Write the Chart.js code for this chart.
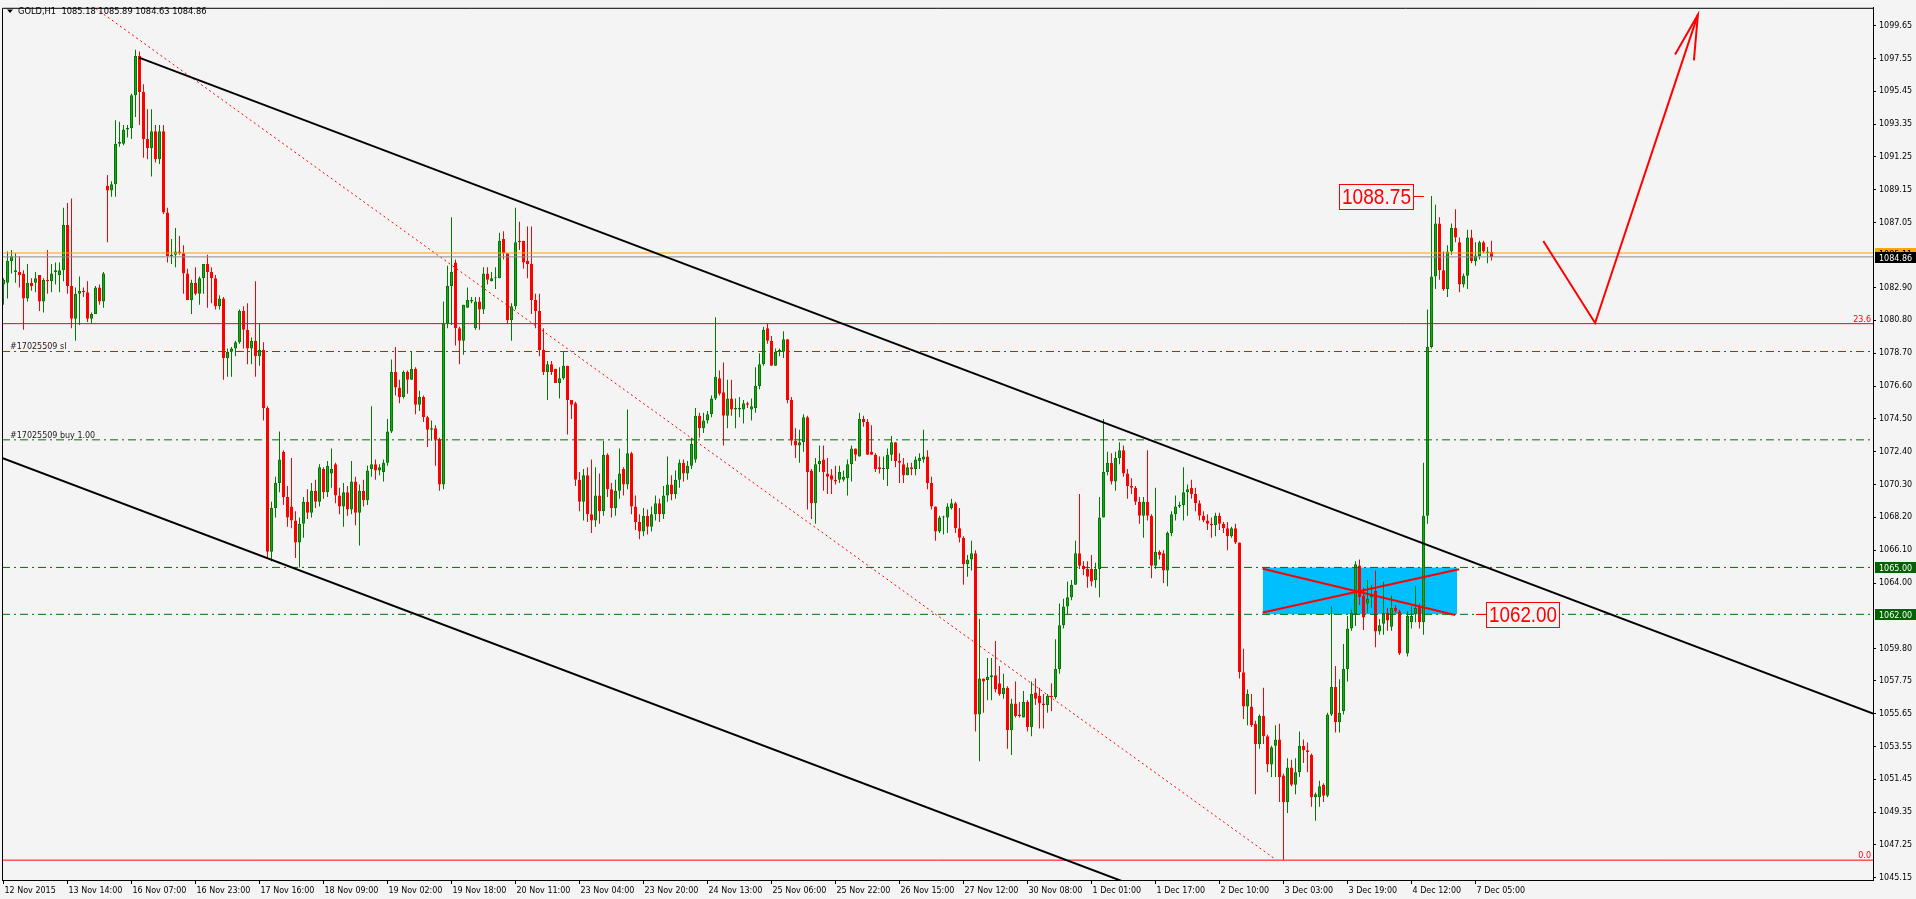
<!DOCTYPE html>
<html><head><meta charset="utf-8">
<script src="https://cdn.jsdelivr.net/npm/chart.js@4.4.1/dist/chart.umd.min.js"></script>
<style>
html,body{margin:0;padding:0;background:#f4f4f4;overflow:hidden;}
canvas{display:block;}
</style></head>
<body>
<canvas id="c" width="1916" height="899"></canvas>
<script>
// ---------- DATA ----------
const titleText = "GOLD,H1  1085.18 1085.89 1084.63 1084.86";
const xTickBars = [0,16,32,48,64,80,96,112,128,144,160,176,192,208,224,240,256,272,288,304,320,336,352,368];
const xTickLabels = ["12 Nov 2015","13 Nov 14:00","16 Nov 07:00","16 Nov 23:00","17 Nov 16:00","18 Nov 09:00","19 Nov 02:00","19 Nov 18:00","20 Nov 11:00","23 Nov 04:00","23 Nov 20:00","24 Nov 13:00","25 Nov 06:00","25 Nov 22:00","26 Nov 15:00","27 Nov 12:00","30 Nov 08:00","1 Dec 01:00","1 Dec 17:00","2 Dec 10:00","3 Dec 03:00","3 Dec 19:00","4 Dec 12:00","7 Dec 05:00"];
const yTickValues = [1099.65,1097.55,1095.45,1093.35,1091.25,1089.15,1087.05,1082.90,1080.80,1078.70,1076.60,1074.50,1072.40,1070.30,1068.20,1066.10,1064.00,1059.80,1057.75,1055.65,1053.55,1051.45,1049.35,1047.25,1045.15];

const opens = [
1083.1,1083.2,1084.6,1083.9,1083.9,1083.8,1082.2,1083.2,1083.2,1083.7,
1082.0,1083.4,1083.3,1083.9,1083.7,1084.0,1086.9,1083.0,1080.9,1082.5,
1082.7,1082.6,1080.9,1081.2,1082.9,1082.0,1089.4,1089.1,1089.5,1092.1,
1092.1,1093.0,1093.1,1095.2,1097.7,1095.4,1092.4,1091.8,1092.9,1091.1,
1092.9,1087.7,1084.9,1085.0,1085.2,1085.1,1083.8,1082.1,1083.2,1082.5,
1083.5,1084.4,1083.9,1083.5,1081.7,1082.2,1078.4,1078.8,1079.0,1079.4,
1081.4,1080.2,1079.0,1079.5,1078.5,1078.9,1075.2,1066.0,1068.8,1070.4,
1072.4,1069.5,1068.9,1068.0,1066.6,1067.8,1069.2,1068.5,1069.9,1069.2,
1071.3,1069.8,1071.0,1071.6,1069.6,1068.9,1069.8,1068.7,1070.5,1068.5,
1069.9,1069.3,1071.3,1071.6,1071.2,1071.1,1071.7,1073.7,1077.5,1076.5,
1075.9,1077.5,1077.0,1077.7,1075.4,1075.9,1074.6,1073.8,1073.9,1073.2,
1070.3,1080.6,1083.0,1084.5,1080.3,1079.5,1081.6,1082.0,1080.3,1082.0,
1081.5,1083.8,1083.3,1083.5,1083.5,1086.0,1085.1,1080.8,1081.7,1085.9,
1085.9,1084.6,1084.4,1082.1,1081.4,1078.9,1077.5,1078.0,1077.7,1076.8,
1077.1,1077.9,1075.7,1075.5,1070.6,1069.2,1070.9,1068.4,1068.0,1069.6,
1068.6,1072.2,1070.0,1068.8,1069.9,1071.3,1070.3,1072.3,1068.9,1067.9,
1067.3,1068.3,1067.6,1068.4,1069.1,1068.4,1069.6,1070.3,1069.7,1070.6,
1071.7,1071.0,1071.5,1071.9,1074.7,1073.9,1074.4,1074.8,1075.8,1077.1,
1076.2,1074.7,1075.8,1075.1,1075.1,1075.1,1075.5,1075.1,1075.2,1076.6,
1078.0,1080.3,1079.5,1077.9,1078.8,1078.8,1079.6,1075.7,1073.1,1072.8,
1073.0,1074.6,1071.2,1069.1,1071.6,1071.9,1071.0,1070.9,1070.6,1070.6,
1070.6,1070.7,1071.6,1072.6,1072.1,1074.5,1074.3,1072.4,1072.2,1071.4,
1071.3,1071.3,1072.2,1073.0,1071.8,1071.6,1070.9,1071.4,1071.3,1071.8,
1071.9,1072.1,1070.4,1068.9,1067.3,1068.2,1068.2,1068.8,1069.1,1067.5,
1066.9,1065.2,1065.5,1065.9,1055.6,1057.9,1057.8,1058.0,1058.1,1057.6,
1056.9,1057.3,1054.6,1056.3,1055.6,1055.4,1056.4,1054.8,1057.0,1056.8,
1056.3,1056.2,1056.8,1056.7,1058.5,1061.3,1062.5,1063.1,1063.9,1065.9,
1065.1,1064.9,1064.9,1064.2,1064.9,1068.2,1071.1,1071.7,1070.5,1072.0,
1072.5,1071.0,1070.2,1070.1,1069.2,1068.3,1069.2,1068.3,1065.1,1066.0,
1065.9,1064.8,1067.2,1068.4,1068.9,1069.0,1069.8,1070.1,1069.7,1069.1,
1068.3,1068.0,1067.8,1067.7,1068.3,1067.8,1067.5,1067.0,1067.5,1066.6,
1058.3,1056.1,1056.1,1055.0,1053.7,1055.5,1054.2,1052.4,1053.6,1054.0,
1051.7,1050.0,1052.2,1051.1,1051.9,1053.6,1053.3,1053.0,1050.3,1050.3,
1051.1,1050.4,1055.6,1057.35,1055.1,1055.8,1058.5,1061.1,1062.0,1065.13,
1063.2,1062.7,1063.1,1063.5,1060.9,1061.4,1062.1,1061.2,1062.4,1062.2,
null,1059.5,1061.5,1062.0,1062.5,1061.5,1068.3,1079.1,1083.6,1087.0,
1084.0,1082.8,1085.2,1086.7,1085.8,1083.1,1083.65,1086.1,1084.6,1084.9,
1085.8,1085.1,1085.18];

const highs = [
1083.5,1085.2,1085.3,1085.1,1084.9,1084.0,1084.4,1083.5,1083.9,1083.7,
1083.5,1085.3,1084.4,1084.5,1084.5,1088.0,1088.3,1088.6,1082.9,1083.6,
1082.9,1083.3,1081.3,1083.0,1083.1,1083.9,1090.1,1089.7,1093.6,1093.5,
1093.3,1093.3,1095.3,1098.1,1098.0,1095.9,1094.3,1094.3,1093.3,1093.3,
1093.3,1088.0,1086.0,1086.7,1086.2,1085.6,1084.1,1083.4,1084.2,1083.6,
1084.4,1085.0,1084.2,1083.7,1082.4,1082.3,1079.0,1079.1,1079.5,1081.5,
1081.7,1081.9,1079.7,1083.3,1080.6,1079.4,1075.3,1069.2,1070.8,1073.7,
1072.5,1070.2,1072.0,1068.6,1068.2,1069.5,1070.0,1070.4,1070.6,1071.6,
1071.4,1071.8,1072.6,1071.7,1070.1,1070.4,1070.2,1071.8,1070.8,1070.3,
1070.6,1071.5,1075.3,1071.9,1071.6,1071.9,1074.5,1078.3,1079.1,1077.0,
1077.6,1077.6,1078.8,1077.8,1076.3,1076.0,1074.7,1074.4,1074.1,1073.3,
1082.0,1084.3,1087.4,1084.7,1080.4,1081.8,1082.9,1082.3,1082.3,1082.3,
1084.2,1084.2,1083.9,1084.2,1086.4,1086.5,1085.1,1081.9,1088.0,1087.1,
1085.9,1086.8,1086.8,1082.5,1082.5,1080.3,1078.2,1078.2,1077.7,1077.8,
1078.8,1077.9,1075.7,1075.6,1071.1,1071.3,1071.4,1071.9,1071.4,1071.0,
1073.1,1072.3,1070.4,1070.6,1072.6,1071.4,1075.1,1072.4,1069.6,1068.4,
1068.8,1068.7,1068.9,1069.6,1069.4,1070.2,1072.1,1070.9,1071.2,1071.9,
1071.9,1071.8,1073.3,1075.2,1074.9,1074.9,1075.0,1076.0,1081.0,1077.6,
1078.1,1077.0,1077.0,1075.8,1075.9,1075.7,1075.6,1075.8,1077.8,1078.7,
1080.4,1080.6,1079.8,1079.0,1079.0,1080.1,1079.6,1075.9,1073.9,1073.8,
1074.8,1074.7,1071.3,1072.0,1072.8,1072.8,1072.0,1071.3,1071.5,1071.5,
1071.2,1071.9,1072.8,1072.6,1074.9,1074.7,1074.5,1074.1,1072.3,1072.1,
1072.1,1072.6,1073.4,1073.0,1072.3,1072.0,1071.7,1071.7,1072.1,1072.3,
1073.8,1072.5,1070.8,1068.9,1068.3,1068.3,1069.1,1069.4,1069.2,1068.8,
1067.0,1065.8,1066.7,1066.1,1061.7,1057.9,1059.2,1059.2,1060.3,1058.7,
1058.2,1057.4,1056.6,1057.7,1056.4,1057.1,1056.5,1057.7,1057.9,1057.3,
1056.9,1056.9,1057.6,1060.4,1062.7,1063.0,1064.1,1064.2,1066.7,1069.7,
1065.4,1065.4,1065.8,1065.3,1069.5,1074.5,1072.4,1072.3,1072.4,1073.0,
1072.8,1071.3,1070.7,1070.2,1069.5,1069.5,1072.5,1068.4,1070.1,1066.1,
1066.1,1067.3,1068.6,1069.6,1069.2,1071.4,1070.3,1070.6,1070.1,1069.3,
1068.6,1068.4,1068.2,1068.5,1068.5,1067.9,1067.9,1067.6,1067.8,1066.6,
1059.8,1057.2,1056.9,1055.2,1055.6,1057.3,1054.3,1053.6,1054.9,1055.0,
1051.8,1052.8,1052.7,1052.8,1054.5,1054.0,1053.8,1053.1,1050.6,1051.35,
1051.2,1055.7,1062.5,1058.7,1057.85,1060.1,1061.9,1062.3,1065.4,1065.5,
1063.7,1064.2,1063.9,1064.8,1061.7,1064.1,1062.4,1063.2,1062.6,1062.3,
null,1062.2,1062.5,1063.8,1062.7,1071.7,1081.5,1088.75,1088.2,1087.4,
1085.2,1085.6,1087.0,1087.9,1086.1,1083.8,1086.6,1086.6,1085.8,1085.9,
1085.9,1085.5,1085.89];

const lows = [
1081.8,1082.2,1083.8,1083.2,1082.9,1080.2,1082.0,1082.7,1082.6,1081.4,
1081.3,1082.5,1082.6,1083.1,1082.6,1083.3,1082.5,1080.3,1079.5,1080.5,
1082.3,1080.7,1080.6,1081.2,1081.8,1081.6,1085.8,1088.7,1088.7,1091.9,
1092.0,1092.5,1092.4,1093.8,1093.3,1091.2,1091.1,1090.0,1090.9,1090.8,
1087.6,1084.5,1084.4,1084.2,1085.0,1082.5,1082.1,1081.2,1082.4,1081.8,
1082.5,1081.6,1081.9,1081.5,1081.5,1077.0,1077.2,1077.2,1078.5,1079.3,
1079.0,1078.0,1078.0,1077.2,1077.9,1074.4,1065.6,1065.4,1068.2,1069.8,
1069.0,1067.6,1067.5,1065.6,1065.0,1066.9,1068.1,1068.2,1068.8,1068.9,
1069.4,1069.5,1070.1,1069.1,1068.4,1067.6,1068.3,1068.4,1067.7,1066.4,
1068.9,1069.0,1070.8,1070.6,1070.9,1070.5,1071.5,1073.6,1076.0,1075.5,
1075.8,1076.1,1077.0,1074.8,1075.0,1074.3,1072.7,1073.1,1071.5,1069.9,
1070.0,1080.3,1080.5,1079.2,1078.0,1078.6,1081.6,1081.9,1080.2,1080.2,
1081.2,1083.1,1083.3,1082.8,1083.5,1084.7,1080.6,1079.5,1081.5,1085.3,
1084.1,1083.5,1081.2,1080.3,1078.5,1077.3,1075.7,1077.3,1076.8,1075.8,
1077.0,1073.5,1074.5,1070.2,1068.6,1068.0,1067.9,1067.2,1067.6,1067.8,
1068.3,1069.5,1068.2,1068.3,1069.4,1069.6,1070.0,1068.4,1067.4,1066.8,
1067.0,1067.1,1067.3,1068.0,1067.9,1068.1,1069.2,1069.3,1069.4,1070.1,
1070.5,1070.6,1071.3,1071.7,1073.3,1073.6,1074.2,1074.6,1075.7,1076.0,
1072.8,1073.9,1074.7,1073.9,1074.6,1074.2,1075.2,1074.4,1074.9,1076.4,
1077.9,1079.3,1077.9,1077.9,1078.5,1078.4,1075.5,1072.8,1072.0,1071.7,
1072.4,1068.7,1068.1,1067.8,1071.1,1069.9,1069.7,1069.7,1070.3,1070.4,
1070.5,1069.6,1070.5,1071.8,1072.1,1074.0,1072.2,1072.2,1071.1,1071.0,
1070.6,1070.2,1071.8,1071.4,1070.4,1070.4,1070.9,1070.9,1070.9,1071.3,
1071.7,1070.0,1068.7,1066.7,1067.2,1067.1,1067.2,1068.7,1067.2,1066.6,
1063.9,1064.4,1064.8,1054.5,1052.6,1055.7,1056.5,1056.5,1057.0,1056.8,
1056.6,1053.4,1053.0,1055.4,1055.4,1055.4,1054.5,1054.2,1056.2,1054.7,
1054.7,1055.7,1055.8,1056.6,1058.2,1061.1,1062.0,1062.9,1063.9,1064.9,
1064.5,1063.7,1063.8,1063.7,1063.1,1068.2,1070.9,1070.3,1069.9,1071.6,
1070.8,1069.4,1069.7,1069.0,1067.8,1066.9,1068.0,1064.3,1064.9,1065.5,
1064.0,1063.8,1067.0,1068.0,1068.8,1068.0,1068.3,1069.4,1068.6,1068.0,
1067.9,1067.4,1066.9,1067.0,1067.4,1067.2,1066.1,1066.9,1066.5,1057.9,
1055.3,1054.9,1054.8,1050.5,1053.4,1053.7,1051.9,1051.6,1051.6,1050.0,
1046.3,1049.3,1051.0,1050.5,1051.6,1052.5,1051.9,1049.7,1048.8,1049.7,
1050.0,1050.3,1055.5,1054.45,1054.45,1055.6,1057.7,1060.95,1061.25,1062.6,
1061.0,1062.1,1062.4,1059.9,1060.7,1060.7,1060.95,1060.95,1062.1,1059.4,
null,1059.3,1061.1,1061.5,1061.1,1060.7,1067.8,1079.0,1082.8,1083.4,
1082.7,1082.3,1085.0,1085.8,1082.6,1082.9,1082.8,1084.45,1084.3,1084.7,
1085.1,1084.45,1084.63];

const closes = [
1083.4,1084.6,1084.9,1084.0,1083.7,1082.2,1083.2,1083.0,1083.5,1082.0,
1083.4,1083.3,1083.8,1084.0,1084.0,1086.9,1083.0,1080.9,1082.5,1082.7,
1082.6,1080.9,1081.2,1082.9,1082.0,1083.8,1089.1,1089.5,1092.1,1092.2,
1093.0,1093.1,1095.2,1097.7,1095.4,1092.4,1091.8,1092.9,1091.1,1092.9,
1087.7,1084.9,1085.0,1085.2,1085.1,1083.8,1082.1,1083.2,1082.5,1083.5,
1084.4,1083.9,1083.5,1081.7,1082.2,1078.4,1078.8,1079.0,1079.4,1081.4,
1080.2,1079.0,1079.5,1078.5,1078.9,1075.2,1066.0,1068.8,1070.4,1071.9,
1069.5,1068.2,1068.0,1066.6,1067.8,1069.2,1068.5,1069.9,1069.2,1071.4,
1069.8,1071.5,1071.3,1069.6,1068.9,1069.8,1068.7,1070.5,1068.5,1069.9,
1069.3,1071.2,1071.6,1071.2,1071.4,1071.7,1073.7,1077.5,1076.5,1075.9,
1077.5,1077.0,1077.7,1075.4,1075.9,1074.6,1073.8,1073.9,1073.2,1070.3,
1080.6,1083.0,1083.9,1080.3,1079.5,1081.8,1082.1,1082.1,1082.0,1081.5,
1083.8,1083.4,1083.5,1083.5,1085.9,1085.1,1080.8,1081.7,1085.8,1085.8,
1084.5,1084.4,1082.1,1081.4,1078.9,1077.5,1078.0,1077.5,1076.8,1077.1,
1077.9,1075.7,1075.4,1070.6,1069.2,1070.9,1068.4,1068.0,1069.6,1068.6,
1072.2,1070.0,1068.8,1069.9,1071.0,1070.3,1072.3,1068.9,1067.9,1067.3,
1068.3,1067.6,1068.4,1069.1,1068.4,1069.6,1070.3,1069.7,1070.6,1071.7,
1071.0,1071.5,1072.9,1074.7,1073.9,1074.4,1074.8,1075.8,1077.2,1076.1,
1074.7,1075.8,1075.1,1075.2,1075.2,1075.5,1075.4,1075.3,1076.6,1078.0,
1080.2,1079.5,1077.9,1078.8,1078.9,1079.6,1075.7,1073.1,1072.8,1073.0,
1074.6,1071.1,1069.1,1071.6,1071.8,1071.1,1070.8,1070.6,1070.5,1071.1,
1070.8,1071.6,1072.6,1072.2,1074.5,1074.3,1072.2,1072.2,1071.3,1071.3,
1071.3,1072.2,1073.0,1071.8,1071.7,1070.9,1071.4,1071.3,1071.9,1072.0,
1072.1,1070.4,1068.9,1067.3,1068.2,1068.25,1068.9,1069.1,1067.5,1066.9,
1065.2,1065.5,1065.9,1055.6,1057.9,1057.7,1058.0,1058.1,1057.2,1056.9,
1057.3,1054.6,1056.3,1055.5,1055.5,1056.4,1054.8,1056.9,1056.6,1056.3,
1056.2,1056.8,1056.7,1058.5,1061.3,1062.5,1063.1,1063.9,1065.9,1065.1,
1064.9,1064.4,1064.1,1064.9,1068.2,1071.1,1071.7,1070.5,1072.0,1072.5,
1071.0,1070.2,1070.1,1069.2,1068.3,1069.2,1068.3,1065.1,1066.0,1065.8,
1064.8,1067.2,1068.4,1068.9,1069.0,1069.8,1070.0,1069.7,1069.1,1068.3,
1068.0,1067.8,1067.7,1068.3,1067.8,1067.5,1067.0,1067.5,1066.6,1058.3,
1056.1,1056.9,1054.9,1053.7,1055.5,1054.2,1052.4,1053.5,1054.0,1051.6,
1050.0,1052.2,1051.1,1051.9,1053.6,1053.3,1053.2,1050.3,1050.5,1051.0,
1050.4,1055.6,1057.35,1055.1,1055.7,1058.5,1061.1,1062.1,1065.2,1063.1,
1061.8,1063.0,1063.3,1060.9,1061.3,1062.1,1061.6,1062.4,1062.2,1059.5,
null,1061.9,1061.9,1062.4,1061.5,1068.3,1079.1,1083.6,1087.0,1084.0,
1082.8,1085.2,1086.7,1086.1,1083.1,1083.65,1086.1,1084.6,1084.95,1085.8,
1085.2,1085.2,1084.86];

// horizontal levels (prices)
const askPrice = 1085.11;
const bidPrice = 1084.86;
const fib236Price = 1080.59;
const stopLossPrice = 1078.81;
const buyEntryPrice = 1073.16;
const zoneTopPrice = 1065.00;
const zoneBottomPrice = 1062.00;
const fib0Price = 1046.28;

// drawn objects: [bar index, price]
const upperChannel = [[33.9,1097.6],[467.4,1055.65]];
const lowerChannel = [[-0.375,1072.0],[300,1042.97]];
const fibDiagonal = [[20,1101.31],[317.9,1046.35]];
const zoneRangeBars = [314.8,363.4];
const zoneCross1 = [[314.8,1064.92],[362.9,1061.96]];
const zoneCross2 = [[314.8,1062.12],[363.9,1064.88]];
const forecastPath = [[384.95,1085.88],[397.9,1080.63],[423.6,1100.35]];
const forecastHead = [[417.9,1097.81],[423.6,1100.35],[422.6,1097.43]];
const highLabel = {bar:355.1, price:1088.75, text:"1088.75"};
const zoneLabel = {bar:368.1, price:1062.00, text:"1062.00"};

// ---------- CHART ----------
const X_MIN = -0.375, X_MAX = 467.375;
const Y_MIN = 1045.01, Y_MAX = 1100.79;
const BULL_FILL = '#1fa31f', BULL_EDGE = '#007a00', BEAR = '#ff0000';
const FONT = '"DejaVu Sans", "Liberation Sans", sans-serif';

const idx = opens.map((o,i)=>i).filter(i=>opens[i]!==null);
const isBull = i => closes[i] >= opens[i];

const wickData = idx.map(i=>({x:i, y:[lows[i], highs[i]]}));
const bodyData = idx.map(i=>({x:i, y:[opens[i], closes[i]]}));

function seg(pts, color, width, dash, order){
  return {type:'line', data: pts.map(p=>({x:p[0], y:p[1]})), borderColor: color,
    borderWidth: width, borderDash: dash || [], pointRadius: 0, pointHoverRadius:0,
    fill: false, tension: 0, order: order, clip: 0, borderCapStyle:'butt'};
}
function hline(price, color, dash){
  return seg([[X_MIN, price],[X_MAX, price]], color, 1, dash, 3);
}
const DASHDOT = [8,4,2,4];

const datasets = [
  {type:'line', data:[{x:zoneRangeBars[0], y:zoneTopPrice},{x:zoneRangeBars[1], y:zoneTopPrice}],
   fill:{value: zoneBottomPrice}, backgroundColor:'#00bfff', borderWidth:0, pointRadius:0, order: 20, clip:0},
  {type:'bar', data: wickData, grouped:false, barThickness:1, inflateAmount:0, borderWidth:0,
   backgroundColor: c => isBull(c.raw.x) ? BULL_EDGE : BEAR, order: 10},
  {type:'bar', data: bodyData, grouped:false, barThickness:3, inflateAmount:0, minBarLength:1,
   borderWidth:1, borderSkipped:false,
   backgroundColor: c => isBull(c.raw.x) ? BULL_FILL : BEAR,
   borderColor: c => isBull(c.raw.x) ? BULL_EDGE : BEAR, order: 9},
  hline(askPrice, '#ffa500', []),
  hline(bidPrice, '#8c8c8c', []),
  hline(fib236Price, '#ff0000', []),
  hline(stopLossPrice, '#ff0000', DASHDOT),
  hline(buyEntryPrice, '#007000', DASHDOT),
  hline(zoneTopPrice, '#007000', DASHDOT),
  hline(zoneBottomPrice, '#007000', DASHDOT),
  hline(fib0Price, '#ff0000', []),
  seg(fibDiagonal, '#ff0000', 1, [2,3], 4),
  seg(upperChannel, '#000000', 2, [], 2),
  seg(lowerChannel, '#000000', 2, [], 2),
  seg(zoneCross1, '#ff0000', 2, [], 1),
  seg(zoneCross2, '#ff0000', 2, [], 1),
  seg(forecastPath, '#ff0000', 2, [], 1),
  seg(forecastHead, '#ff0000', 2, [], 1)
];

const bgPlugin = {
  id:'bg',
  beforeDraw(chart){
    const c = chart.ctx; c.save(); c.fillStyle='#f4f4f4'; c.fillRect(0,0,chart.width,chart.height); c.restore();
  }
};

const overlayPlugin = {
  id:'overlay',
  afterDraw(chart){
    const c = chart.ctx, xs = chart.scales.x, ys = chart.scales.y, a = chart.chartArea;
    c.save();
    // frame left & top
    c.strokeStyle='#000'; c.lineWidth=1;
    c.beginPath(); c.moveTo(a.left+0.5, a.bottom); c.lineTo(a.left+0.5, a.top+0.5); c.lineTo(a.right, a.top+0.5); c.stroke();
    // title
    c.fillStyle='#000';
    c.beginPath(); c.moveTo(7,9.5); c.lineTo(13,9.5); c.lineTo(10,13); c.closePath(); c.fill();
    c.font = '8.3px ' + FONT; c.textAlign='left'; c.textBaseline='alphabetic';
    c.fillText(titleText, 18, 14);
    // level texts
    c.font = '8px ' + FONT;
    c.fillStyle='#1a1a1a';
    c.fillText('#17025509 sl', 10, Math.round(ys.getPixelForValue(stopLossPrice)) - 2);
    c.fillText('#17025509 buy 1.00', 10, Math.round(ys.getPixelForValue(buyEntryPrice)) - 2);
    c.fillStyle='#ff0000'; c.textAlign='right';
    c.fillText('23.6', a.right - 2, Math.round(ys.getPixelForValue(fib236Price)) - 2);
    c.fillText('0.0', a.right - 2, Math.round(ys.getPixelForValue(fib0Price)) - 2);
    // price label boxes
    function box(label, leftSide){
      const ax = xs.getPixelForValue(label.bar), cy = Math.round(ys.getPixelForValue(label.price)) + 0.5;
      const lead = leftSide ? -11 : 10, w = leftSide ? 74 : 73, h = 24;
      const bx = leftSide ? ax + lead - w : ax + lead;
      c.strokeStyle='#ff0000'; c.lineWidth=1;
      c.beginPath(); c.moveTo(ax, cy); c.lineTo(ax+lead, cy); c.stroke();
      c.fillStyle='#f4f4f4';
      c.fillRect(Math.round(bx)+0.5, cy-12, w, h+1);
      c.strokeRect(Math.round(bx)+0.5, cy-12, w, h+1);
      c.fillStyle='#ff0000'; c.font='22px "Liberation Sans", Arial, sans-serif';
      c.textAlign='center'; c.textBaseline='middle';
      c.fillText(label.text, Math.round(bx) + w/2 + 0.5, cy + 1, w - 5);
    }
    box(highLabel, true);
    box(zoneLabel, false);
    // axis badges
    function badge(price, text, bg, fg){
      const cy = Math.round(ys.getPixelForValue(price));
      c.fillStyle = bg; c.fillRect(a.right + 2, cy - 5, chart.width - a.right - 2, 11);
      c.fillStyle = fg; c.font = '8px ' + FONT; c.textAlign='left'; c.textBaseline='alphabetic';
      c.fillText(text, a.right + 6, cy + 3.5);
    }
    badge(askPrice, askPrice.toFixed(2), '#ffa500', '#000');
    badge(bidPrice, bidPrice.toFixed(2), '#000000', '#ffffff');
    badge(zoneTopPrice, zoneTopPrice.toFixed(2), '#006400', '#ffffff');
    badge(zoneBottomPrice, zoneBottomPrice.toFixed(2), '#006400', '#ffffff');
    c.restore();
  }
};

Chart.defaults.color = '#000';
new Chart(document.getElementById('c'), {
  type:'bar',
  data:{datasets},
  options:{
    responsive:false, animation:false, devicePixelRatio:1,
    layout:{padding:{left:2, top:2, right:0, bottom:0}},
    plugins:{legend:{display:false}, tooltip:{enabled:false}, title:{display:false}},
    events:[],
    scales:{
      x:{type:'linear', position:'bottom', min:X_MIN, max:X_MAX, offset:false,
         grid:{display:true, drawOnChartArea:false, drawTicks:true, tickLength:4, color:'#000', offset:false},
         border:{display:true, color:'#000', width:1},
         ticks:{autoSkip:false, maxRotation:0, minRotation:0, align:'start', padding:2, labelOffset:1,
                font:{size:8, family:FONT}, color:'#000',
                callback:(v,i)=>xTickLabels[i]},
         afterBuildTicks: s => { s.ticks = xTickBars.map(v=>({value:v})); },
         afterFit: s => { s.height = 19; }
      },
      y:{type:'linear', position:'right', min:Y_MIN, max:Y_MAX,
         grid:{display:true, drawOnChartArea:false, drawTicks:true, tickLength:3, color:'#000'},
         border:{display:true, color:'#000', width:1},
         ticks:{autoSkip:false, padding:3, font:{size:8, family:FONT}, color:'#000',
                callback:v=>Number(v).toFixed(2)},
         afterBuildTicks: s => { s.ticks = yTickValues.map(v=>({value:v})); },
         afterFit: s => { s.width = 43; }
      }
    }
  },
  plugins:[bgPlugin, overlayPlugin]
});
</script>
</body></html>
